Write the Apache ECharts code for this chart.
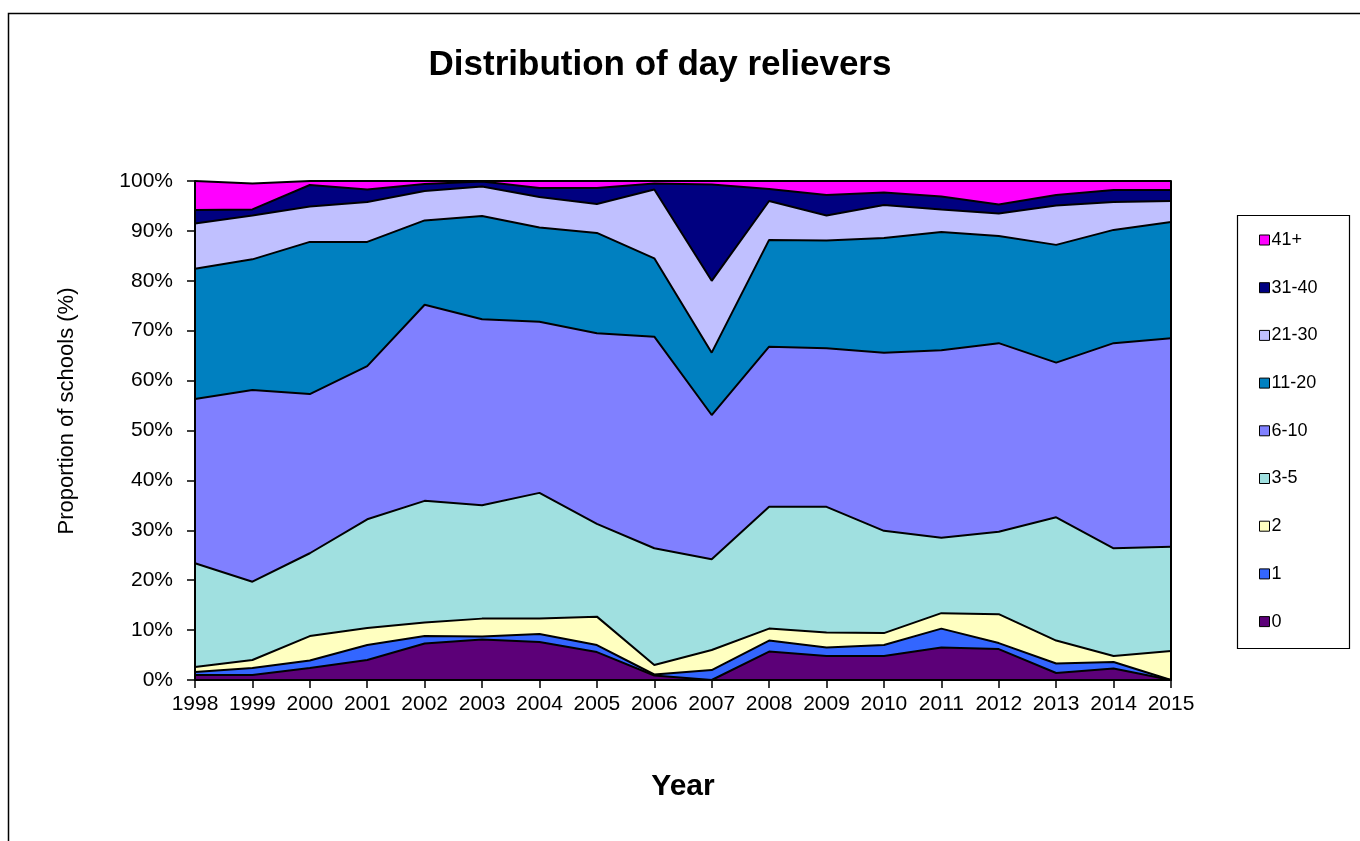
<!DOCTYPE html>
<html>
<head>
<meta charset="utf-8">
<title>Distribution of day relievers</title>
<script src="https://cdn.jsdelivr.net/npm/echarts@6/dist/echarts.min.js"></script>
<style>
  html, body { margin: 0; padding: 0; background: #fff; }
  #chart { width: 1360px; height: 841px; }
</style>
</head>
<body>
<div id="chart"></div>
<script>
// years on the x axis
var years = ["1998", "1999", "2000", "2001", "2002", "2003", "2004", "2005", "2006",
             "2007", "2008", "2009", "2010", "2011", "2012", "2013", "2014", "2015"];

// share of schools (%) per number of day relievers
var r0     = [1.0, 1.0, 2.4, 4.0, 7.3, 8.1, 7.6, 5.6, 0.9, 0.0, 5.7, 4.8, 4.8, 6.5, 6.2, 1.4, 2.3, 0.0];
var r1     = [0.6, 1.4, 1.5, 3.0, 1.5, 0.6, 1.6, 1.4, 0.2, 2.0, 2.2, 1.7, 2.2, 3.8, 1.2, 1.9, 1.3, 0.0];
var r2     = [1.0, 1.6, 4.9, 3.4, 2.7, 3.6, 3.1, 5.7, 1.9, 4.0, 2.4, 3.0, 2.4, 3.1, 5.8, 4.6, 1.2, 5.8];
var r3to5  = [20.8, 15.7, 16.6, 21.8, 24.4, 22.7, 25.2, 18.6, 23.4, 18.2, 24.4, 25.2, 20.5, 15.1, 16.5, 24.7, 21.6, 20.9];
var r6to10 = [32.9, 38.4, 31.9, 30.7, 39.3, 37.3, 34.3, 38.2, 42.4, 28.9, 32.1, 31.8, 35.7, 37.6, 37.8, 31.0, 41.1, 41.8];
var r11to20 = [26.1, 26.2, 30.5, 24.9, 16.9, 20.7, 18.9, 20.1, 15.7, 12.5, 21.4, 21.6, 23.0, 23.7, 21.5, 23.6, 22.7, 23.3];
var r21to30 = [9.1, 8.8, 7.1, 8.0, 5.9, 5.9, 6.1, 5.8, 13.8, 14.4, 7.8, 5.0, 6.6, 4.5, 4.5, 7.9, 5.6, 4.2];
var r31to40 = [2.7, 1.2, 4.3, 2.5, 1.4, 1.0, 1.8, 3.2, 1.2, 19.3, 2.4, 4.1, 2.5, 2.6, 1.8, 2.1, 2.4, 2.2];
var r41plus = [5.8, 5.2, 0.8, 1.7, 0.6, 0.1, 1.4, 1.4, 0.5, 0.7, 1.6, 2.8, 2.3, 3.1, 4.7, 2.8, 1.8, 1.8];

var groupNames = ["0", "1", "2", "3-5", "6-10", "11-20", "21-30", "31-40", "41+"];
var groupData = [r0, r1, r2, r3to5, r6to10, r11to20, r21to30, r31to40, r41plus];
var colors = ["#5c0078", "#3366ff", "#ffffc0", "#a0e0e0", "#8080ff", "#0080c0", "#c0c0ff", "#000080", "#ff00ff"];

var yTicks = [0, 10, 20, 30, 40, 50, 60, 70, 80, 90, 100];

var font = "'Liberation Sans', Arial, sans-serif";

var chart = echarts.init(document.getElementById("chart"));

// each band drawn above the ones stacked over it so its black outline stays whole
var series = groupNames.map(function (name, i) {
  return {
    name: name,
    type: "line",
    stack: "total",
    data: groupData[i],
    symbol: "none",
    z: 20 - i,
    lineStyle: { color: "#000", width: 2 },
    areaStyle: { color: colors[i], opacity: 1 },
    itemStyle: { color: colors[i], borderColor: "#000", borderWidth: 1 },
    emphasis: { disabled: true }
  };
});

chart.setOption({
  animation: false,
  color: colors,
  grid: { left: 195, right: 189, top: 181, bottom: 161 },
  xAxis: {
    type: "category",
    data: years,
    boundaryGap: false,
    name: "Year",
    nameLocation: "middle",
    nameGap: 92,
    nameTextStyle: { fontFamily: font, fontSize: 30, fontWeight: "bold", color: "#000" },
    axisLine: { lineStyle: { color: "#000", width: 2 } },
    axisTick: { show: true, length: 8, lineStyle: { color: "#000", width: 1.5 } },
    axisLabel: { fontFamily: font, fontSize: 21, color: "#000", margin: 14, interval: 0 },
    splitLine: { show: false },
    z: 30
  },
  yAxis: [
    {
      type: "value",
      min: yTicks[0],
      max: yTicks[yTicks.length - 1],
      interval: 10,
      axisLine: { show: true, lineStyle: { color: "#000", width: 2 } },
      axisTick: { show: true, length: 8, lineStyle: { color: "#000", width: 1.5 } },
      axisLabel: { fontFamily: font, fontSize: 21, color: "#000", margin: 22, formatter: "{value}%" },
      splitLine: { show: false },
      z: 30
    },
    {
      type: "value",
      position: "right",
      min: 0,
      max: 100,
      axisLine: { show: true, lineStyle: { color: "#000", width: 2 } },
      axisTick: { show: false },
      axisLabel: { show: false },
      splitLine: { show: false },
      z: 30
    }
  ],
  legend: {
    orient: "vertical",
    left: 1259,
    top: 231,
    padding: 0,
    itemWidth: 10,
    itemHeight: 10,
    itemGap: 29.7,
    icon: "rect",
    data: groupNames.slice().reverse(),
    selectedMode: false,
    itemStyle: { borderColor: "#000", borderWidth: 1 },
    textStyle: { fontFamily: font, fontSize: 18, lineHeight: 18, color: "#000", padding: [0, 0, 0, -3] }
  },
  graphic: [
    {
      type: "rect",
      shape: { x: 8.5, y: 13.5, width: 1400, height: 900 },
      style: { fill: "none", stroke: "#000", lineWidth: 1.5 },
      silent: true
    },
    {
      type: "rect",
      shape: { x: 1237.5, y: 215.5, width: 112, height: 433 },
      style: { fill: "none", stroke: "#000", lineWidth: 1.2 },
      silent: true
    },
    {
      type: "text",
      x: 660,
      y: 65,
      style: {
        text: "Distribution of day relievers",
        fontFamily: font,
        fontSize: 35,
        fontWeight: "bold",
        fill: "#000",
        align: "center",
        verticalAlign: "middle"
      },
      silent: true
    },
    {
      type: "text",
      x: 67,
      y: 411,
      rotation: Math.PI / 2,
      style: {
        text: "Proportion of schools (%)",
        fontFamily: font,
        fontSize: 22,
        fill: "#000",
        align: "center",
        verticalAlign: "middle"
      },
      silent: true
    }
  ],
  series: series
});
</script>
</body>
</html>
